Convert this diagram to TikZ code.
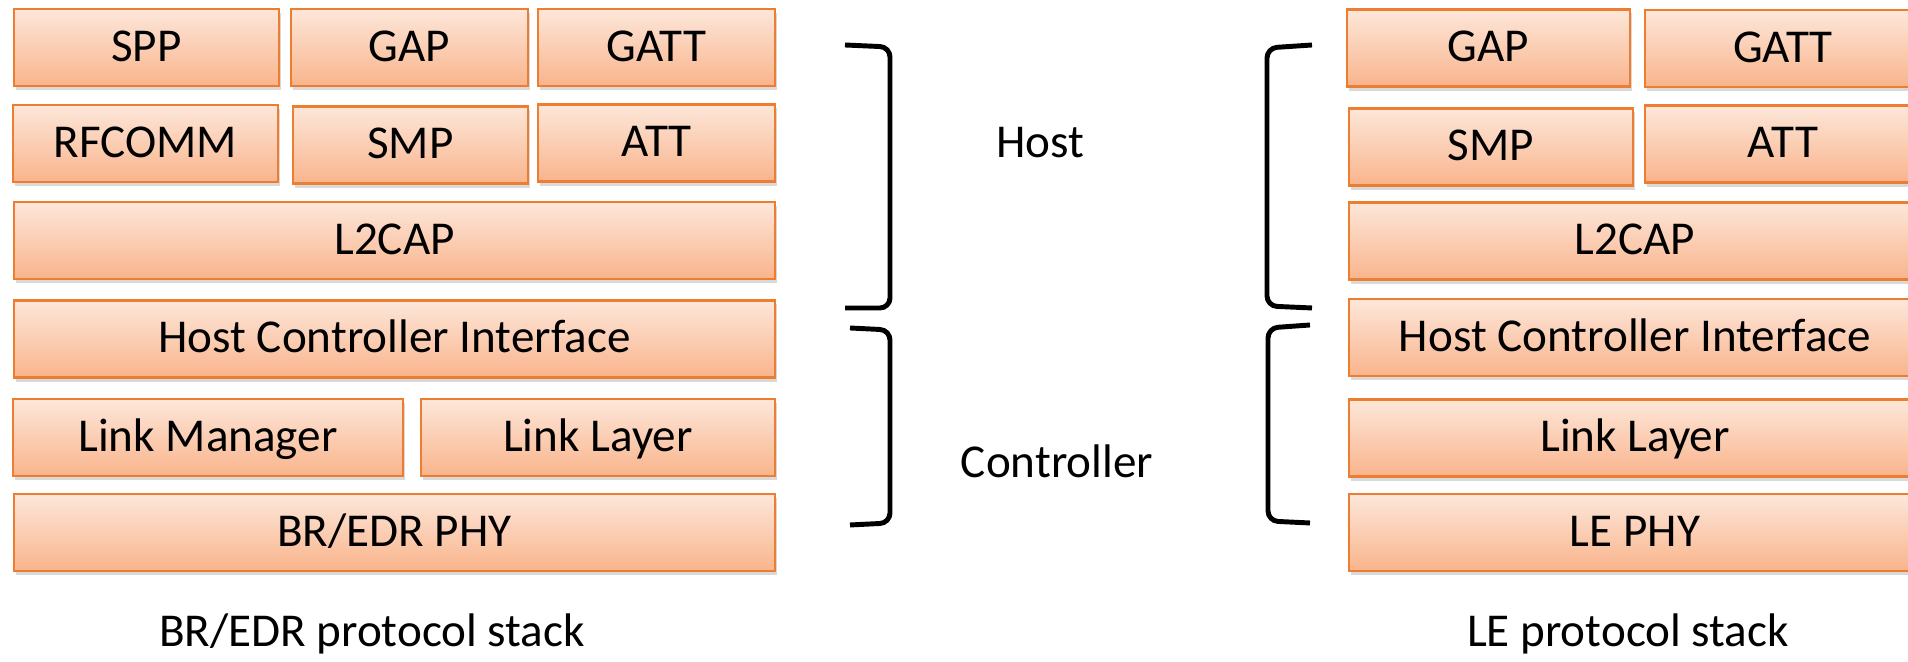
\documentclass[tikz,border=0pt]{standalone}
\usepackage{fontspec}
\setmainfont{Carlito}
\usetikzlibrary{shadows}
\definecolor{peachtop}{HTML}{FDE7DA}
\definecolor{peachbot}{HTML}{F9B48C}
\definecolor{peachline}{HTML}{ED7D31}
\tikzset{
    layer/.style={
        rectangle,
        draw=peachline,
        line width=0.6pt,
        top color=peachtop,
        bottom color=peachbot,
        drop shadow={shadow xshift=0.02cm,shadow yshift=-0.04cm,opacity=0.3},
        minimum height=0.77cm,
        inner sep=0pt,
        text height=1em,
        text depth=0.21em,
        font=\fontsize{13.4}{16}\selectfont},
    brace/.style={
        draw,
        line width=1.4pt,
        rounded corners=0.1cm},
    note/.style={
        anchor=base,
        font=\fontsize{13.4}{16}\selectfont}}

\begin{document}
\begin{tikzpicture}[x=0.01cm,y=-0.01cm]
    \useasboundingbox (0,0) rectangle (1908,662);
    \clip (0,0) rectangle (1908,662);

    % BR/EDR
    \node[layer,minimum width=2.65cm] (spp) at (146.5,47.5) {SPP};
    \node[layer,minimum width=2.37cm] (gapl) at (409.5,47.5) {GAP};
    \node[layer,minimum width=2.37cm] (gattl) at (656.5,47.5) {GATT};
    \node[layer,minimum width=2.65cm] (rfcomm) at (145.5,143.5) {RFCOMM};
    \node[layer,minimum width=2.35cm] (smpl) at (410.5,145) {SMP};
    \node[layer,minimum width=2.37cm] (attl) at (656.5,143) {ATT};
    \node[layer,minimum width=7.61cm] (l2capl) at (394.5,240.5) {L2CAP};
    \node[layer,minimum width=7.61cm] (hcil) at (394.5,339) {Host Controller Interface};
    \node[layer,minimum width=3.90cm] (lm) at (208,437.5) {Link Manager};
    \node[layer,minimum width=3.54cm] (lll) at (598,437.5) {Link Layer};
    \node[layer,minimum width=7.61cm] (phyl) at (394.5,532.5) {BR/EDR PHY};

    % LE
    \node[layer,minimum width=2.83cm] (gapr) at (1488.5,48) {GAP};
    \node[layer,minimum width=2.76cm] (gattr) at (1783,48.5) {GATT};
    \node[layer,minimum width=2.84cm] (smpr) at (1491,147) {SMP};
    \node[layer,minimum width=2.76cm] (attr) at (1783,144) {ATT};
    \node[layer,minimum width=5.72cm] (l2capr) at (1635,241) {L2CAP};
    \node[layer,minimum width=5.72cm] (hcir) at (1635,337.5) {Host Controller Interface};
    \node[layer,minimum width=5.72cm] (llr) at (1635,438) {Link Layer};
    \node[layer,minimum width=5.72cm] (phyr) at (1635,532.5) {LE PHY};

    \draw[brace] (845,45) -- (890,47) -- (890,308) -- (845,308);
    \draw[brace] (850,328) -- (890,330) -- (890,523) -- (850,525);
    \draw[brace] (1312,45) -- (1267,48) -- (1267,306) -- (1312,308);
    \draw[brace] (1310,325) -- (1268,328) -- (1268,521) -- (1310,523);

    \node[note] (host) at (1040,158) {Host};
    \node[note] (ctrl) at (1057,478) {Controller};
    \node[note] (brcap) at (372,647) {BR/EDR protocol stack};
    \node[note] (lecap) at (1628,647) {LE protocol stack};
\end{tikzpicture}
\end{document}
